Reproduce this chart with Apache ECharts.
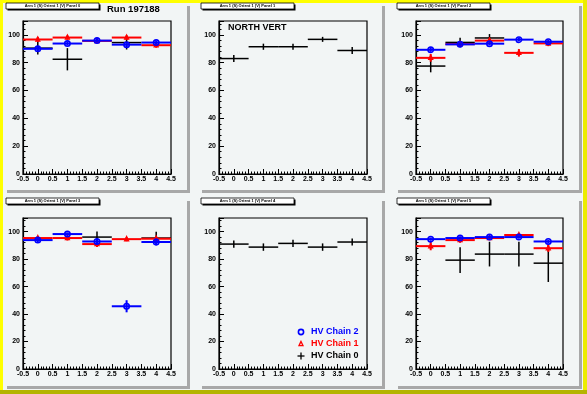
<!DOCTYPE html>
<html><head><meta charset="utf-8">
<script src="https://cdn.jsdelivr.net/npm/echarts@6/dist/echarts.min.js"></script>
<style>html,body{margin:0;padding:0;background:#f2f5f5}#c{width:587px;height:394px}</style>
</head><body><div id="c"></div><script>
// ---- data ----
const xBins = [0, 1, 2, 3, 4];
const xTickLabels = ['-0.5','0','0.5','1','1.5','2','2.5','3','3.5','4','4.5'];
const yTickLabels = ['0','20','40','60','80','100'];
const panelTitles = [
  'Arm 1 (S) Orient 1 (V) Panel 0', 'Arm 1 (S) Orient 1 (V) Panel 1', 'Arm 1 (S) Orient 1 (V) Panel 2',
  'Arm 1 (S) Orient 1 (V) Panel 3', 'Arm 1 (S) Orient 1 (V) Panel 4', 'Arm 1 (S) Orient 1 (V) Panel 5'
];
const runLabel = 'Run 197188';
const sideLabel = 'NORTH VERT';
const chainNames = ['HV Chain 2', 'HV Chain 1', 'HV Chain 0'];

// HV Chain 0 (black) per panel
const chain0Val = [
  [90.5, 82.5, null, 94.5, null],
  [83.0, 91.5, 91.5, 96.8, 88.8],
  [77.6, 94.6, 97.8, null, null],
  [null, null, 96.1, null, 95.4],
  [91.0, 88.8, 91.5, 88.8, 92.5],
  [null, 79.3, 83.7, 83.7, 77.1]
];
const chain0Err = [
  [4.5, 8.0, null, 5.0, null],
  [2.5, 2.2, 2.2, 1.8, 2.5],
  [4.5, 3.4, 2.8, null, null],
  [null, null, 4.0, null, 4.5],
  [2.7, 2.7, 2.7, 2.7, 2.5],
  [null, 9.4, 9.0, 9.0, 13.7]
];
// HV Chain 1 (red)
const chain1Val = [
  [96.7, 98.1, 95.7, 98.1, 92.6],
  [null, null, null, null, null],
  [83.5, 93.4, 95.9, 87.1, 93.9],
  [95.4, 95.4, 91.0, 94.6, 94.9],
  [null, null, null, null, null],
  [89.5, 93.9, 95.4, 97.6, 88.0]
];
const chain1Err = [
  [1.8, 1.5, 1.5, 1.5, 1.8],
  [null, null, null, null, null],
  [2.8, 1.5, 1.5, 2.7, 2.0],
  [1.5, 1.8, 2.2, 1.5, 1.5],
  [null, null, null, null, null],
  [3.0, 2.0, 1.5, 1.2, 2.7]
];
// HV Chain 2 (blue)
const chain2Val = [
  [90.0, 93.8, 95.9, 93.0, 94.5],
  [null, null, null, null, null],
  [89.3, 93.2, 93.7, 96.6, 95.1],
  [93.9, 98.3, 92.9, 45.7, 92.5],
  [null, null, null, null, null],
  [94.6, 95.4, 96.1, 96.1, 92.9]
];
const chain2Err = [
  [1.5, 1.5, 1.2, 1.5, 1.2],
  [null, null, null, null, null],
  [1.5, 1.2, 1.2, 1.2, 1.2],
  [1.5, 1.2, 2.0, 4.4, 2.5],
  [null, null, null, null, null],
  [1.2, 1.2, 1.2, 1.2, 1.2]
];

// ---- layout ----
const BG = '#f2f5f5';
const FONT = '"Liberation Sans", Arial, sans-serif';
const frames = [
  {l: 23, t: 21, w: 148, h: 153}, {l: 219, t: 21, w: 148, h: 153}, {l: 416, t: 21, w: 147, h: 153},
  {l: 23, t: 218, w: 148, h: 151}, {l: 219, t: 218, w: 148, h: 151}, {l: 416, t: 218, w: 147, h: 151}
];
const pads = [
  [5, 4, 182, 186], [200, 4, 182, 186], [396, 4, 183, 186],
  [5, 199, 182, 187], [200, 199, 182, 187], [396, 199, 183, 187]
];

function makeRender(color, marker, lw) {
  return function (params, api) {
    const x = api.value(0), y = api.value(1), e = api.value(2);
    const pL = api.coord([x - 0.5, y]), pR = api.coord([x + 0.5, y]);
    const pT = api.coord([x, y + e]), pB = api.coord([x, y - e]);
    const c = api.coord([x, y]);
    const ch = [
      {type: 'line', shape: {x1: pL[0], y1: pL[1], x2: pR[0], y2: pR[1]}, style: {stroke: color, lineWidth: lw}},
      {type: 'line', shape: {x1: pT[0], y1: pT[1], x2: pB[0], y2: pB[1]}, style: {stroke: color, lineWidth: lw}}
    ];
    if (marker === 'circle') {
      ch.push({type: 'circle', shape: {cx: c[0], cy: c[1], r: 2.7}, style: {fill: null, stroke: color, lineWidth: 1.6}});
    } else if (marker === 'triangle') {
      ch.push({type: 'polygon', shape: {points: [[c[0], c[1] - 2.6], [c[0] - 2, c[1] + 1.6], [c[0] + 2, c[1] + 1.6]]},
        style: {fill: null, stroke: color, lineWidth: 1.3}});
    }
    return {type: 'group', children: ch};
  };
}

function seriesData(vals, errs) {
  const out = [];
  xBins.forEach((x, i) => { if (vals[i] != null) out.push([x, vals[i], errs[i]]); });
  return out;
}

const grid = [], xAxis = [], yAxis = [], series = [];
frames.forEach((f, i) => {
  grid.push({left: f.l, top: f.t, width: f.w, height: f.h, show: true, borderColor: '#000', borderWidth: 1.2, backgroundColor: BG});
  xAxis.push({
    gridIndex: i, type: 'value', min: -0.5, max: 4.5, interval: 0.5,
    axisLine: {show: true, onZero: false, lineStyle: {color: '#000', width: 1.2}},
    axisTick: {show: true, inside: true, length: 5, lineStyle: {color: '#000'}},
    minorTick: {show: true, splitNumber: 5, length: 2.5, lineStyle: {color: '#000'}},
    splitLine: {show: false},
    axisLabel: {fontSize: 7, fontWeight: 'bold', fontFamily: FONT, color: '#000', margin: 2,
      formatter: v => xTickLabels[Math.round((v + 0.5) / 0.5)]}
  });
  yAxis.push({
    gridIndex: i, type: 'value', min: 0, max: 110, interval: 20,
    axisLine: {show: true, onZero: false, lineStyle: {color: '#000', width: 1.2}},
    axisTick: {show: true, inside: true, length: 5, lineStyle: {color: '#000'}},
    minorTick: {show: true, splitNumber: 5, length: 2.5, lineStyle: {color: '#000'}},
    splitLine: {show: false},
    axisLabel: {fontSize: 7, fontWeight: 'bold', fontFamily: FONT, color: '#000', margin: 3, showMaxLabel: false,
      formatter: v => { const k = Math.round(v / 20); return (v % 20 === 0 && k < yTickLabels.length) ? yTickLabels[k] : ''; }}
  });
  series.push({type: 'custom', name: chainNames[2], xAxisIndex: i, yAxisIndex: i, renderItem: makeRender('#000000', null, 1.5), data: seriesData(chain0Val[i], chain0Err[i]), z: 2});
  series.push({type: 'custom', name: chainNames[1], xAxisIndex: i, yAxisIndex: i, renderItem: makeRender('#ff0000', 'triangle', 2), data: seriesData(chain1Val[i], chain1Err[i]), z: 3});
  series.push({type: 'custom', name: chainNames[0], xAxisIndex: i, yAxisIndex: i, renderItem: makeRender('#0000ff', 'circle', 2), data: seriesData(chain2Val[i], chain2Err[i]), z: 4});
});

// ---- decorations ----
const graphic = [];
graphic.push({type: 'rect', shape: {x: 0, y: 0, width: 587, height: 394}, style: {fill: BG}, z: -10, silent: true});
graphic.push({type: 'rect', shape: {x: 0, y: 0, width: 587, height: 3}, style: {fill: '#ffff00'}, z: -9});
graphic.push({type: 'rect', shape: {x: 0, y: 0, width: 3, height: 394}, style: {fill: '#ffff00'}, z: -9});
graphic.push({type: 'rect', shape: {x: 583, y: 0, width: 4, height: 394}, style: {fill: '#ecec00'}, z: -9});
graphic.push({type: 'rect', shape: {x: 0, y: 390, width: 587, height: 4}, style: {fill: '#b4b400'}, z: -9});
pads.forEach((p, i) => {
  const [x, y, w, h] = p;
  graphic.push({type: 'rect', shape: {x: x + w, y: y + 2, width: 3, height: h + 1}, style: {fill: '#a8a8a8'}, z: -8});
  graphic.push({type: 'rect', shape: {x: x + 2, y: y + h, width: w + 1, height: 3}, style: {fill: '#a8a8a8'}, z: -8});
  // title box
  graphic.push({type: 'rect', shape: {x: x + 2.5, y: y + 0.5, width: 93, height: 6}, style: {fill: '#000'}, z: 50});
  graphic.push({type: 'rect', shape: {x: x + 1, y: y - 1, width: 93, height: 6}, style: {fill: '#fff', stroke: '#000', lineWidth: 0.8}, z: 51});
  graphic.push({type: 'text', x: x + 47.5, y: y + 2, style: {text: panelTitles[i], fontSize: 4, fontWeight: 'bold', fontFamily: FONT, fill: '#000', align: 'center', verticalAlign: 'middle'}, z: 52});
});
graphic.push({type: 'text', x: 107, y: 9, style: {text: runLabel, fontSize: 9.5, fontWeight: 'bold', fontFamily: FONT, fill: '#000', verticalAlign: 'middle'}, z: 60});
graphic.push({type: 'text', x: 228, y: 28, style: {text: sideLabel, fontSize: 9, fontWeight: 'bold', fontFamily: FONT, fill: '#000', verticalAlign: 'middle'}, z: 60});
// legend in panel 4
const legColors = ['#0000ff', '#ff0000', '#000000'];
const legY = [332, 344, 356];
legY.forEach((ly, k) => {
  const mx = 301;
  if (k === 0) graphic.push({type: 'circle', shape: {cx: mx, cy: ly, r: 2.6}, style: {fill: null, stroke: legColors[k], lineWidth: 1.6}, z: 60});
  else if (k === 1) graphic.push({type: 'polygon', shape: {points: [[mx, ly - 2.6], [mx - 2, ly + 1.6], [mx + 2, ly + 1.6]]}, style: {fill: null, stroke: legColors[k], lineWidth: 1.3}, z: 60});
  else {
    graphic.push({type: 'line', shape: {x1: mx - 3.5, y1: ly, x2: mx + 3.5, y2: ly}, style: {stroke: '#000', lineWidth: 1.3}, z: 60});
    graphic.push({type: 'line', shape: {x1: mx, y1: ly - 3.5, x2: mx, y2: ly + 3.5}, style: {stroke: '#000', lineWidth: 1.3}, z: 60});
  }
  graphic.push({type: 'text', x: 311, y: ly, style: {text: chainNames[k], fontSize: 9, fontWeight: 'bold', fontFamily: FONT, fill: legColors[k], verticalAlign: 'middle'}, z: 60});
});

const chart = echarts.init(document.getElementById('c'), null, {renderer: 'canvas'});
chart.setOption({animation: false, backgroundColor: BG, grid, xAxis, yAxis, series, graphic});
</script></body></html>
